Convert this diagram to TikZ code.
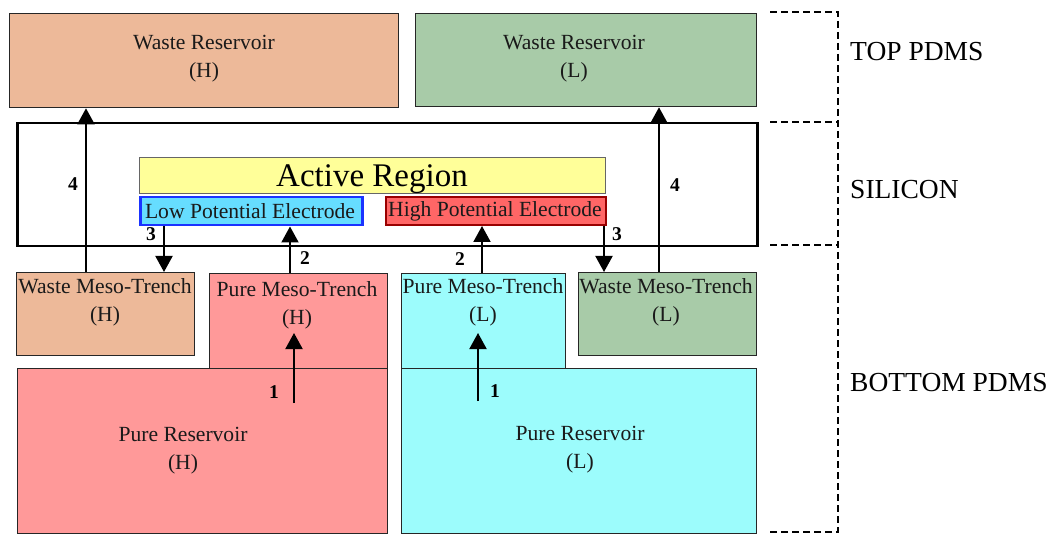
\documentclass[tikz,border=0pt]{standalone}
\usepackage{fontspec}
\setmainfont{Liberation Serif}
\usetikzlibrary{arrows.meta,calc}
\definecolor{wasteH}{HTML}{EDB999}
\definecolor{wasteL}{HTML}{A8CBA8}
\definecolor{pureH}{HTML}{FF9999}
\definecolor{pureL}{HTML}{9CFCFC}
\definecolor{activeY}{HTML}{FFFF99}
\definecolor{lowE}{HTML}{66DDFF}
\definecolor{lowB}{HTML}{1A33FF}
\definecolor{highE}{HTML}{FF6666}
\definecolor{highB}{HTML}{990000}
\definecolor{txtc}{HTML}{1A1A1A}
\tikzset{
  box/.style={draw=black!85, line width=1.3pt, inner sep=0pt, anchor=north west},
  txt/.style={font=\fontsize{21.6}{28}\selectfont, text=txtc, align=center, inner sep=0pt},
  num/.style={font=\fontsize{19.5}{22}\selectfont\bfseries, inner sep=0pt},
  arr/.style={line width=2pt, -{Triangle[width=17pt,length=16pt]}},
  layer/.style={line width=2pt, dash pattern=on 7pt off 4pt},
  side/.style={font=\fontsize{27.5}{30}\selectfont, anchor=west, inner sep=0pt},
}
\begin{document}
\begin{tikzpicture}[x=1pt,y=-1pt]
\useasboundingbox[fill=white] (0,0) rectangle (1051,534);
% top layer
\node[box, fill=wasteH, minimum width=389pt, minimum height=94pt] (wrh) at (9,13) {};
\node[txt] (wrht) at (204,59) {Waste Reservoir\\(H)};
\node[box, fill=wasteL, minimum width=341pt, minimum height=93pt] (wrl) at (415,13) {};
\node[txt] (wrlt) at (574,59) {Waste Reservoir\\(L)};
% silicon
\node[box, draw=black, line width=2.5pt, fill=white, minimum width=740pt, minimum height=123pt] (si) at (16,122) {};
\node[box, draw=black!60, line width=1pt, fill=activeY, minimum width=466pt, minimum height=36pt] (ar) at (139,157) {};
\node[font=\fontsize{33}{36}\selectfont, inner sep=0pt] (art) at (372,179) {Active Region};
\node[box, draw=lowB, line width=2.5pt, fill=lowE, minimum width=222pt, minimum height=28pt] (lpe) at (139,196) {};
\node[txt] (lpet) at (250,211) {Low Potential Electrode};
\node[box, draw=highB, line width=2pt, fill=highE, minimum width=220pt, minimum height=28pt] (hpe) at (385,196) {};
\node[txt] (hpet) at (495,211) {High Potential Electrode};
% bottom layer
\node[box, fill=wasteH, minimum width=178pt, minimum height=83pt] (wmh) at (16,272) {};
\node[txt] (wmht) at (105,302) {Waste Meso-Trench\\(H)};
\node[box, fill=pureH, minimum width=178pt, minimum height=96pt] (pmh) at (209,273) {};
\node[txt] (pmht) at (297,305) {Pure Meso-Trench\\(H)};
\node[box, fill=pureL, minimum width=164pt, minimum height=96pt] (pml) at (401,273) {};
\node[txt] (pmlt) at (483,302) {Pure Meso-Trench\\(L)};
\node[box, fill=wasteL, minimum width=178pt, minimum height=83pt] (wml) at (578,272) {};
\node[txt] (wmlt) at (666,302) {Waste Meso-Trench\\(L)};
\node[box, fill=pureH, minimum width=370pt, minimum height=165pt] (prh) at (17,368) {};
\node[txt] (prht) at (183,451) {Pure Reservoir\\(H)};
\node[box, fill=pureL, minimum width=355pt, minimum height=165pt] (prl) at (401,368) {};
\node[txt] (prlt) at (580,450) {Pure Reservoir\\(L)};
% arrow columns
\coordinate (c4l) at (86,0);
\coordinate (c3l) at (164,0);
\coordinate (c2l) at (290,0);
\coordinate (c2r) at (482,0);
\coordinate (c3r) at (604,0);
\coordinate (c4r) at (659,0);
\coordinate (s1h) at (294,403);
\coordinate (e1h) at (294,333);
\coordinate (s1l) at (478,401);
\coordinate (e1l) at (478,333);
% arrows
\draw[arr] (wmh.north -| c4l) -- (wrh.south -| c4l);
\draw[arr] (lpe.south -| c3l) -- (wmh.north -| c3l);
\draw[arr] (pmh.north -| c2l) -- (lpe.south -| c2l);
\draw[arr] (s1h) -- (e1h);
\draw[arr] (pml.north -| c2r) -- (hpe.south -| c2r);
\draw[arr] (s1l) -- (e1l);
\draw[arr] (hpe.south -| c3r) -- (wml.north -| c3r);
\draw[arr] (wml.north -| c4r) -- (wrl.south -| c4r);
% numbers
\node[num] (n4l) at (73,184) {4};
\node[num] (n3l) at (151,234) {3};
\node[num] (n2l) at (305,258) {2};
\node[num] (n1l) at (274,392) {1};
\node[num] (n2r) at (460,259) {2};
\node[num] (n1r) at (495,391) {1};
\node[num] (n3r) at (617,234) {3};
\node[num] (n4r) at (675,185) {4};
% layer brackets
\coordinate (b0) at (838,12);
\coordinate (b1) at (838,122);
\coordinate (b2) at (838,245);
\coordinate (b3) at (838,532);
\draw[layer] (770,12) -- (b0) -- (b3) -- (770,532);
\draw[layer] (770,122) -- (b1);
\draw[layer] (770,245) -- (b2);
\node[side] (ltop) at (850,52) {TOP PDMS};
\node[side] (lsi) at (850,190) {SILICON};
\node[side] (lbot) at (850,383) {BOTTOM PDMS};
\end{tikzpicture}
\end{document}
